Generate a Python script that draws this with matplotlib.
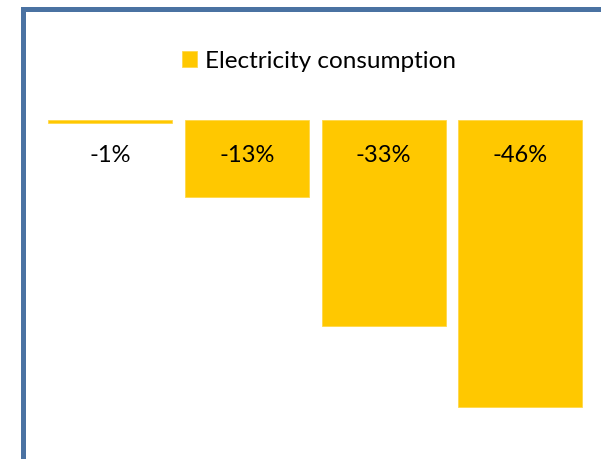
import matplotlib.pyplot as plt
from matplotlib.patches import Rectangle

# bar lengths, labels as printed
categories = ['A', 'B', 'C', 'D']
values = [-0.5, -12.4, -33.0, -46.0]
labels = ['-1%', '-13%', '-33%', '-46%']
series_name = 'Electricity consumption'

plt.rcParams['font.family'] = ['Lato', 'DejaVu Sans']

fig = plt.figure(figsize=(6.01, 4.59), dpi=100)
ax = fig.add_axes([0, 0, 1, 1])
ax.set_axis_off()

x = list(range(len(categories)))
ax.bar(x, values, width=0.906, color='#FFC800', edgecolor='#FFD84A',
       linewidth=0.6, label=series_name)
for i, lab in zip(x, labels):
    ax.annotate(lab, (i, 0), xytext=(0, -25.5), textcoords='offset points',
                ha='center', va='center', fontsize=17, color='black')

ax.set_xlim(-0.804, 3.589)
ax.set_ylim(-54.33, 19.23)

leg = ax.legend(loc='center left', bbox_to_anchor=(172 / 601, 1 - 61 / 459),
                frameon=False, fontsize=17.5, handlelength=0.64, handleheight=0.64,
                handletextpad=0.3, borderaxespad=0)

# blue frame on the left and top
fig.patches.append(Rectangle((22.5 / 601, -0.1), 1.2, (459 - 9.5) / 459 + 0.1,
                             transform=fig.transFigure, fill=False,
                             edgecolor='#4A72A2', linewidth=3.6))

fig.savefig('out.png', dpi=100)
